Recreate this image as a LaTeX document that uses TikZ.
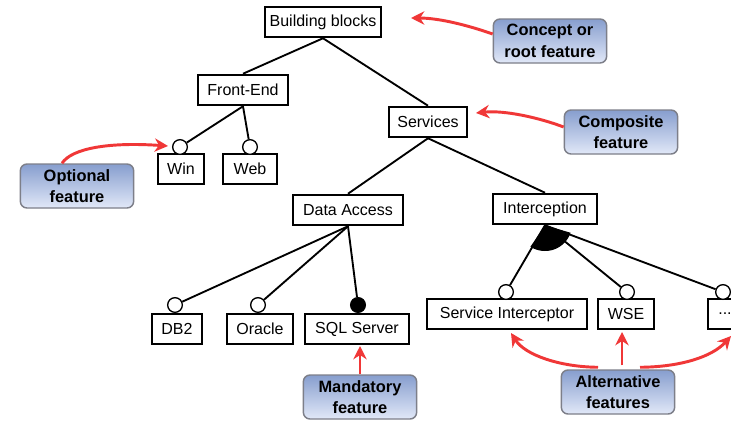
\documentclass[tikz,border=0pt]{standalone}
\usepackage{fontspec}
\setmainfont{Liberation Sans}
\usetikzlibrary{arrows.meta}
\definecolor{redarr}{RGB}{240,55,55}
\definecolor{calltop}{RGB}{135,158,206}
\definecolor{callbot}{RGB}{225,232,248}
\definecolor{callborder}{RGB}{125,127,137}
\begin{document}
\begin{tikzpicture}[x=0.75pt,y=-0.75pt,
  fbox/.style={draw,line width=1.4pt,inner sep=0pt,minimum height=23pt,font=\fontsize{12}{13}\selectfont},
  optc/.style={circle,draw,fill=white,line width=1pt,inner sep=0pt,minimum size=11pt},
  mandc/.style={circle,draw,fill=black,line width=1pt,inner sep=0pt,minimum size=11pt},
  conn/.style={line width=1.4pt},
  callout/.style={rounded corners=5pt,draw=callborder,line width=1.1pt,top color=calltop,bottom color=callbot,
    minimum width=85pt,minimum height=33pt,align=center,inner sep=2pt,font=\fontsize{12.3}{16}\selectfont\bfseries},
  redarrow/.style={draw=redarr,line width=2.2pt,-{Stealth[length=10pt,width=10pt]}}]
\fill[white] (0,0) rectangle (731,421);
\useasboundingbox (0,0) rectangle (731,421);

% feature boxes
\node[fbox,minimum width=87pt] (bb) at (323,22) {Building blocks};
\node[fbox,minimum width=68pt] (fe) at (243,90) {Front-End};
\node[fbox,minimum width=59pt] (sv) at (428,122) {Services};
\node[fbox,minimum width=34.5pt] (win) at (181,169) {Win};
\node[fbox,minimum width=40.5pt] (web) at (250,169) {Web};
\node[fbox,minimum width=82pt] (da) at (348,210) {Data Access};
\node[fbox,minimum width=78pt] (ic) at (545,209) {Interception};
\node[fbox,minimum width=120pt] (si) at (507,314) {Service Interceptor};
\node[fbox,minimum width=42pt] (wse) at (626,314) {WSE};
\node[fbox,minimum width=25.5pt] (dots) at (725,314) {...};
\node[fbox,minimum width=38pt] (db2) at (177,329) {DB2};
\node[fbox,minimum width=50pt] (ora) at (260,329) {Oracle};
\node[fbox,minimum width=78pt] (sql) at (357,329) {SQL Server};

% circles
\node[optc] (cwin) at (180,147) {};
\node[optc] (cweb) at (250,147) {};
\node[optc] (cdb2) at (175,305) {};
\node[optc] (cora) at (258,305) {};
\node[mandc] (csql) at (358,305) {};
\node[optc] (csi) at (506,292) {};
\node[optc] (cwse) at (627,292) {};
\node[optc] (cdots) at (723,292) {};

% connectors
\draw[conn] (bb.south) -- (fe.north);
\draw[conn] (bb.south) -- (sv.north);
\draw[conn] (fe.south) -- (cwin);
\draw[conn] (fe.south) -- (cweb);
\draw[conn] (sv.south) -- (da.north);
\draw[conn] (sv.south) -- (ic.north);
\draw[conn] (da.south) -- (cdb2);
\draw[conn] (da.south) -- (cora);
\draw[conn] (da.south) -- (csql);
\fill[black] (ic.south) -- plot[domain=18.9:122.6,samples=30] ({545+27*cos(\x)},{224+27*sin(\x)}) -- cycle;
\draw[conn] (ic.south) -- (csi);
\draw[conn] (ic.south) -- (cwse);
\draw[conn] (ic.south) -- (cdots);

% callouts
\node[callout] (ccon) at (550,41) {Concept or\\root feature};
\node[callout] (ccomp) at (621,132) {Composite\\feature};
\node[callout] (copt) at (77,186) {Optional\\feature};
\node[callout] (cman) at (360,397) {Mandatory\\feature};
\node[callout] (calt) at (618,392) {Alternative\\features};

% arrow tips
\coordinate (tcon) at (411,18);
\coordinate (tcomp) at (476,113);
\coordinate (topt) at (168,146);
\coordinate (tman) at (360,346);
\coordinate (talt1) at (511,333);
\coordinate (talt2) at (622,332);
\coordinate (talt3) at (731,336);

\draw[redarrow] (ccon.west) ++(0,-7) .. controls (470,26) and (440,18) .. (tcon);
\draw[redarrow] (ccomp.west) ++(0,-5) .. controls (540,118) and (505,110) .. (tcomp);
\draw[redarrow] (copt.north) ++(-15,0) .. controls (72,148) and (110,142) .. (topt);
\draw[redarrow] (cman.north) -- (tman);
\draw[redarrow] (calt.north) ++(-20,-2) .. controls (560,367) and (525,355) .. (talt1);
\draw[redarrow] (calt.north) ++(4,-4) -- (talt2);
\draw[redarrow] (calt.north) ++(22,-2) .. controls (680,367) and (712,357) .. (talt3);
\end{tikzpicture}
\end{document}
